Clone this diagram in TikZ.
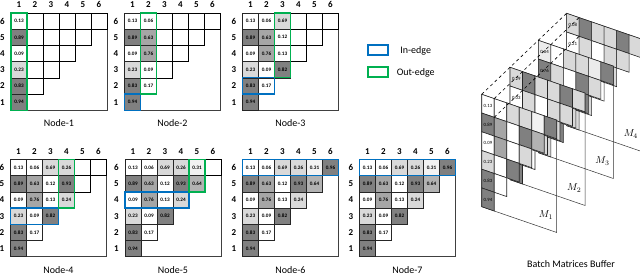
\documentclass[tikz,border=0pt]{standalone}
\usepackage{fontspec}
\setmainfont{Carlito}
\usepackage{xcolor}
\usepackage{amsmath}
\usepackage{tikz}

\definecolor{inblue}{HTML}{0070C0}
\definecolor{outgreen}{HTML}{00B050}

\tikzset{
  frame/.style={draw=black!75, line width=0.8pt},
  emptybox/.style={draw=black, line width=0.5pt},
  cellbox/.style={draw=black!85, line width=0.6pt},
  sheet/.style={draw=black!80, line width=0.5pt},
  inedge/.style={draw=inblue, line width=1.3pt},
  outedge/.style={draw=outgreen, line width=1.3pt},
  val/.style={font=\fontsize{5.2}{6}\selectfont\bfseries, inner sep=0pt},
  tinyval/.style={font=\fontsize{4.8}{5}\selectfont, inner sep=0pt},
  idx/.style={font=\fontsize{9}{10}\selectfont\bfseries, inner sep=0pt},
  title/.style={font=\fontsize{10}{12}\selectfont, inner sep=0pt},
  keybox/.style={fill=white, minimum width=20pt, minimum height=10pt, inner sep=0pt},
  link/.style={dashed, black, line width=0.6pt},
}

% column/row/value/shade of the weight matrix
\def\cellvals{1/6/0.13/0, 1/5/0.89/50, 1/4/0.09/0, 1/3/0.23/15, 1/2/0.83/50, 1/1/0.94/50,
  2/6/0.06/0, 2/5/0.63/35, 2/4/0.76/35, 2/3/0.09/0, 2/2/0.17/0,
  3/6/0.69/15, 3/5/0.12/0, 3/4/0.13/0, 3/3/0.82/50,
  4/6/0.26/15, 4/5/0.93/50, 4/4/0.24/15,
  5/6/0.31/5, 5/5/0.64/30,
  6/6/0.96/50}

% #1 name, #2 origin, #3 filled columns, #4 in-edge row, #5 in-edge length, #6 out-edge column, #7 title
\newcommand{\nodegrid}[7]{%
  \begin{scope}[shift={#2}, x=16pt, y=-16.2pt]
    \draw[frame] (0,0) rectangle (6,6);
    \foreach \r in {1,...,6} \foreach \c in {1,...,\r}
      \draw[emptybox] (\c-1,6-\r) rectangle (\c,7-\r);
    \foreach \c/\r/\v/\s in \cellvals {
      \ifnum\c>#3\relax\else
        \draw[cellbox, fill=black!\s] (\c-1,6-\r) rectangle (\c,7-\r);
        \node[val] (#1-v\c\r) at (\c-0.5,6.5-\r) {\v};
      \fi
    }
    \ifnum#5>0 \draw[inedge] (0,6-#4) rectangle (#5,7-#4); \fi
    \ifnum#6>0 \draw[outedge] (#6-1,0) rectangle (#6,7-#6); \fi
    \foreach \c in {1,...,6} \node[idx] (#1-col\c) at (\c-0.5,-0.5) {\c};
    \foreach \r in {1,...,6} \node[idx] (#1-row\r) at (-0.53,6.5-\r) {\r};
    \node[title] (#1-name) at (3,6.8) {#7};
  \end{scope}}

% #1 name, #2 origin, #3 shades per row, #4 values of column 1, #5 label
\newcommand{\buffermat}[5]{%
  \begin{scope}[shift={#2}, x={(12.5pt,-4.3pt)}, y={(0pt,-18.73pt)}]
    \draw[sheet] (0,0) -- (6,0) -- (6,6) -- (0,6) -- cycle;
    \foreach \r/\row in #3 {
      \foreach \s [count=\c] in \row
        \draw[cellbox, fill=black!\s] (\c-1,6-\r) -- (\c,6-\r) -- (\c,7-\r) -- (\c-1,7-\r) -- cycle;
    }
    \foreach \r/\v in #4 \node[tinyval] (#1-v\r) at (0.5,6.5-\r) {\v};
    \coordinate (#1-a) at (0,0);
    \coordinate (#1-b) at (1,0);
    \coordinate (#1-c) at (1,1);
    \node[title] (#1-name) at (5.14,5.26) {$#5$};
  \end{scope}}

\begin{document}
\begin{tikzpicture}[x=1pt, y=-1pt]

    % 1. Picture size
    \useasboundingbox (0,0) rectangle (640,276);
    \fill[white] (0,0) rectangle (640,276);
    \clip (0,0) rectangle (640,276);

    % 2. The seven node matrices
    \nodegrid{n1}{(11,13)}{1}{0}{0}{1}{Node-1}
    \nodegrid{n2}{(124.5,13)}{2}{1}{1}{2}{Node-2}
    \nodegrid{n3}{(242.5,13)}{3}{2}{2}{3}{Node-3}
    \nodegrid{n4}{(10.5,159.5)}{4}{3}{3}{4}{Node-4}
    \nodegrid{n5}{(125,159.5)}{5}{4}{4}{5}{Node-5}
    \nodegrid{n6}{(242.5,159.5)}{6}{6}{6}{0}{Node-6}
    \nodegrid{n7}{(359.5,159.5)}{6}{6}{6}{0}{Node-7}

    % 3. Legend
    \node[keybox, inedge] (inkey) at (378,50) {};
    \node[title] (intext) at (415.7,50.5) {In-edge};
    \node[keybox, outedge] (outkey) at (378,72) {};
    \node[title] (outtext) at (415.7,72.5) {Out-edge};

    % 4. Batch matrices buffer, back to front
    \buffermat{m4}{(566.6,13.3)}{{6/{15,50,15,15,50,15}, 5/{0,15,0,15,15}, 4/{15,0,50,15}, 3/{0,15,0}, 2/{50,15}, 1/{15}}}{{6/0.08, 5/0.21}}{M_4}
    \buffermat{m3}{(538.3,40.3)}{{6/{8,0,15,15,8,50}, 5/{50,15,0,50,15}, 4/{0,15,15,50}, 3/{15,0,15}, 2/{0,50}, 1/{15}}}{{6/0.04, 5/0.76}}{M_3}
    \buffermat{m2}{(510,67.3)}{{6/{15,50,15,15,50,15}, 5/{0,15,0,15,15}, 4/{15,50,0,15}, 3/{50,0,15}, 2/{15,0}, 1/{50}}}{{6/0.29, 5/0.03}}{M_2}
    \buffermat{m1}{(481.7,94.3)}{{6/{0,0,15,15,5,50}, 5/{50,35,0,50,30}, 4/{0,35,0,15}, 3/{15,0,50}, 2/{50,0}, 1/{50}}}{{6/0.13, 5/0.89, 4/0.09, 3/0.23, 2/0.83, 1/0.94}}{M_1}

    % 5. Dashed depth lines
    \draw[link] (m1-a) -- (m4-a);
    \draw[link] (m1-b) -- (m4-b);
    \draw[link] (m1-c) -- (m4-c);

    \node[title] (buffer) at (571,264) {Batch Matrices Buffer};

\end{tikzpicture}
\end{document}
